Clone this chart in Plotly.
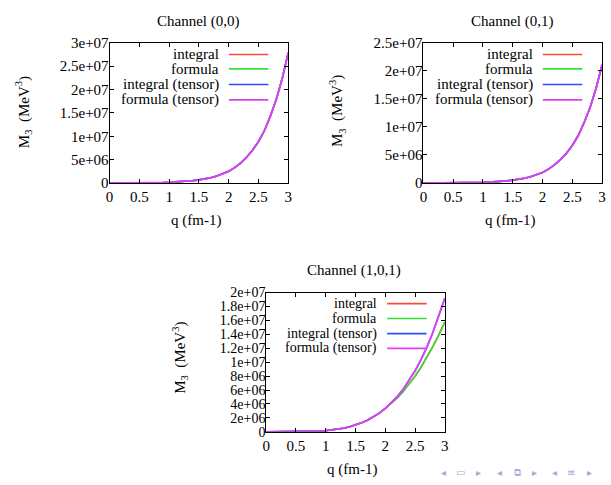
import plotly.graph_objects as go

# ---------------- data ----------------
q = [0.0, 0.1, 0.2, 0.3, 0.4, 0.5, 0.6, 0.7, 0.8, 0.9, 1.0,
     1.1, 1.2, 1.3, 1.4, 1.5, 1.6, 1.7, 1.8, 1.9, 2.0,
     2.1, 2.2, 2.3, 2.4, 2.5, 2.6, 2.7, 2.8, 2.9, 3.0]

# Channel (0,0), values in 1e6 MeV^3 (all four curves coincide)
ch00 = [0, 0, 0.001, 0.003, 0.007, 0.015, 0.03, 0.05, 0.08, 0.12, 0.167,
        0.22, 0.29, 0.39, 0.51, 0.68, 0.88, 1.14, 1.48, 1.93, 2.5,
        3.28, 4.27, 5.52, 7.0, 8.85, 11.2, 14.3, 17.9, 22.4, 27.9]

# Channel (0,1)
ch01 = [0, 0, 0.001, 0.002, 0.005, 0.011, 0.023, 0.038, 0.06, 0.09, 0.126,
        0.166, 0.219, 0.295, 0.386, 0.514, 0.665, 0.862, 1.12, 1.46, 1.89,
        2.48, 3.23, 4.17, 5.29, 6.69, 8.47, 10.8, 13.5, 16.9, 21.1]

# Channel (1,0,1): non-tensor (integral, formula) and tensor curves
ch101_plain = [0, 0, 0.0002, 0.001, 0.0033, 0.0087, 0.019, 0.037, 0.065, 0.108, 0.17,
               0.257, 0.373, 0.527, 0.725, 0.975, 1.29, 1.67, 2.14, 2.69, 3.36,
               4.07, 4.88, 5.79, 6.84, 7.99, 9.28, 10.69, 12.27, 13.96, 15.8]
ch101_tensor = [0, 0, 0.0002, 0.001, 0.0033, 0.0087, 0.019, 0.037, 0.065, 0.108, 0.17,
                0.257, 0.373, 0.527, 0.725, 0.975, 1.29, 1.67, 2.14, 2.69, 3.36,
                4.14, 5.06, 6.12, 7.36, 8.76, 10.38, 12.2, 14.3, 16.6, 19.2]

series_names = ["integral", "formula", "integral (tensor)", "formula (tensor)"]
series_colors = ["#ff4a3a", "#33e033", "#2f4cff", "#e040f5"]

titles = ["Channel (0,0)", "Channel (0,1)", "Channel (1,0,1)"]

x_tickvals = [0, 0.5, 1, 1.5, 2, 2.5, 3]
x_ticktext = ["0", "0.5", "1", "1.5", "2", "2.5", "3"]

y1_tickvals = [0, 5e6, 1e7, 1.5e7, 2e7, 2.5e7, 3e7]
y1_ticktext = ["0", "5e+06", "1e+07", "1.5e+07", "2e+07", "2.5e+07", "3e+07"]
y2_tickvals = [0, 5e6, 1e7, 1.5e7, 2e7, 2.5e7]
y2_ticktext = ["0", "5e+06", "1e+07", "1.5e+07", "2e+07", "2.5e+07"]
y3_tickvals = [0, 2e6, 4e6, 6e6, 8e6, 1e7, 1.2e7, 1.4e7, 1.6e7, 1.8e7, 2e7]
y3_ticktext = ["0", "2e+06", "4e+06", "6e+06", "8e+06", "1e+07",
               "1.2e+07", "1.4e+07", "1.6e+07", "1.8e+07", "2e+07"]

# ---------------- figure ----------------
W, H = 611, 485
FONT = "Liberation Serif"
FS = 15

fig = go.Figure()

panels = [
    ("x", "y", [ch00, ch00, ch00, ch00], 3e7, y1_tickvals, y1_ticktext, FS),
    ("x2", "y2", [ch01, ch01, ch01, ch01], 2.5e7, y2_tickvals, y2_ticktext, FS),
    ("x3", "y3", [ch101_plain, ch101_plain, ch101_tensor, ch101_tensor], 2e7, y3_tickvals, y3_ticktext, 14),
]

widths = [1.6, 1.6, 1.6, 1.8]
for xa, ya, sers, ymax, tv, tt, fs in panels:
    for i, s in enumerate(sers):
        fig.add_trace(go.Scatter(
            x=q, y=[v * 1e6 for v in s], mode="lines",
            line=dict(color=series_colors[i], width=widths[i]),
            xaxis=xa, yaxis=ya, showlegend=False, hoverinfo="skip"))

def px_dom(x0, x1):
    return [x0 / W, x1 / W]

def py_dom(top, bottom):
    return [1 - bottom / H, 1 - top / H]

doms = [
    (px_dom(107, 288), py_dom(36, 181)),
    (px_dom(425, 606), py_dom(36, 181)),
    (px_dom(265.7, 446.7), py_dom(294.3, 438.3)),
]

axis_common = dict(showline=True, linecolor="black", linewidth=1, mirror="ticks",
                   ticks="inside", ticklen=4, tickcolor="black", showgrid=False,
                   zeroline=False)

layout = dict(width=W, height=H, margin=dict(l=0, r=0, t=0, b=0),
              paper_bgcolor="white", plot_bgcolor="white",
              font=dict(family=FONT, size=FS, color="black"))

for k, ((xd, yd), p) in enumerate(zip(doms, panels)):
    sfx = "" if k == 0 else str(k + 1)
    layout["xaxis" + sfx] = dict(domain=xd, anchor="y" + sfx, range=[0, 3],
                                 tickvals=x_tickvals, ticktext=x_ticktext,
                                 tickfont=dict(family=FONT, size=FS, color="black"),
                                 **axis_common)
    layout["yaxis" + sfx] = dict(domain=yd, anchor="x" + sfx, range=[0, p[3]],
                                 tickvals=p[4], ticktext=p[5], ticklabelstandoff=-3,
                                 tickfont=dict(family=FONT, size=p[6], color="black"),
                                 **axis_common)

fig.update_layout(**layout)

annotations = []
shapes = []

title_pos = [(197, 14), (515, 14), (355, 271)]
xlab_pos = [(195, 220), (513, 220), (353, 477)]
ylab_pos = [(20, 108), (338, 107), (178, 362)]
for k in range(3):
    tx, ty = title_pos[k]
    annotations.append(dict(text=titles[k], x=tx / W, y=1 - ty / H, xref="paper", yref="paper",
                            showarrow=False, xanchor="center", yanchor="middle", borderpad=0,
                            font=dict(family=FONT, size=FS)))
    lx, ly = xlab_pos[k]
    annotations.append(dict(text="q (fm-1)", x=lx / W, y=1 - ly / H, xref="paper", yref="paper",
                            showarrow=False, xanchor="center", yanchor="middle", borderpad=0,
                            font=dict(family=FONT, size=FS)))
    yx, yy = ylab_pos[k]
    annotations.append(dict(text="M<sub>3</sub>  (MeV<sup>3</sup>)", x=yx / W, y=1 - yy / H,
                            xref="paper", yref="paper", textangle=-90, borderpad=0,
                            showarrow=False, xanchor="center", yanchor="middle",
                            font=dict(family=FONT, size=FS)))

key_cfg = [
    (0.619, 0.668, 0.889, [0.917, 0.814, 0.703, 0.593], FS),
    (0.620, 0.668, 0.889, [0.917, 0.814, 0.703, 0.593], FS),
    (0.628, 0.677, 0.898, [0.921, 0.814, 0.705, 0.599], 14),
]
for k, (tr, l0, l1, rows, kfs) in enumerate(key_cfg):
    sfx = "" if k == 0 else str(k + 1)
    for i, name in enumerate(series_names):
        annotations.append(dict(text=name, x=tr, y=rows[i], xref="x" + sfx + " domain",
                                yref="y" + sfx + " domain", showarrow=False, borderpad=0,
                                xanchor="right", yanchor="middle",
                                font=dict(family=FONT, size=kfs)))
        shapes.append(dict(type="line", x0=l0, x1=l1, y0=rows[i], y1=rows[i],
                           xref="x" + sfx + " domain", yref="y" + sfx + " domain",
                           line=dict(color=series_colors[i], width=widths[i])))

nav = [("◂", 445), ("▭", 463), ("▸", 481), ("◂", 502), ("⧉", 520), ("▸", 538),
       ("◂", 558), ("≡", 575), ("▸", 593)]
for ch, xx in nav:
    annotations.append(dict(text=ch, x=xx / W, y=1 - 480 / H, xref="paper", yref="paper",
                            showarrow=False, xanchor="center", yanchor="middle", borderpad=0,
                            font=dict(family="DejaVu Sans", size=10, color="#a9a9d6")))

fig.update_layout(annotations=annotations, shapes=shapes)

fig.write_html("out.html")
